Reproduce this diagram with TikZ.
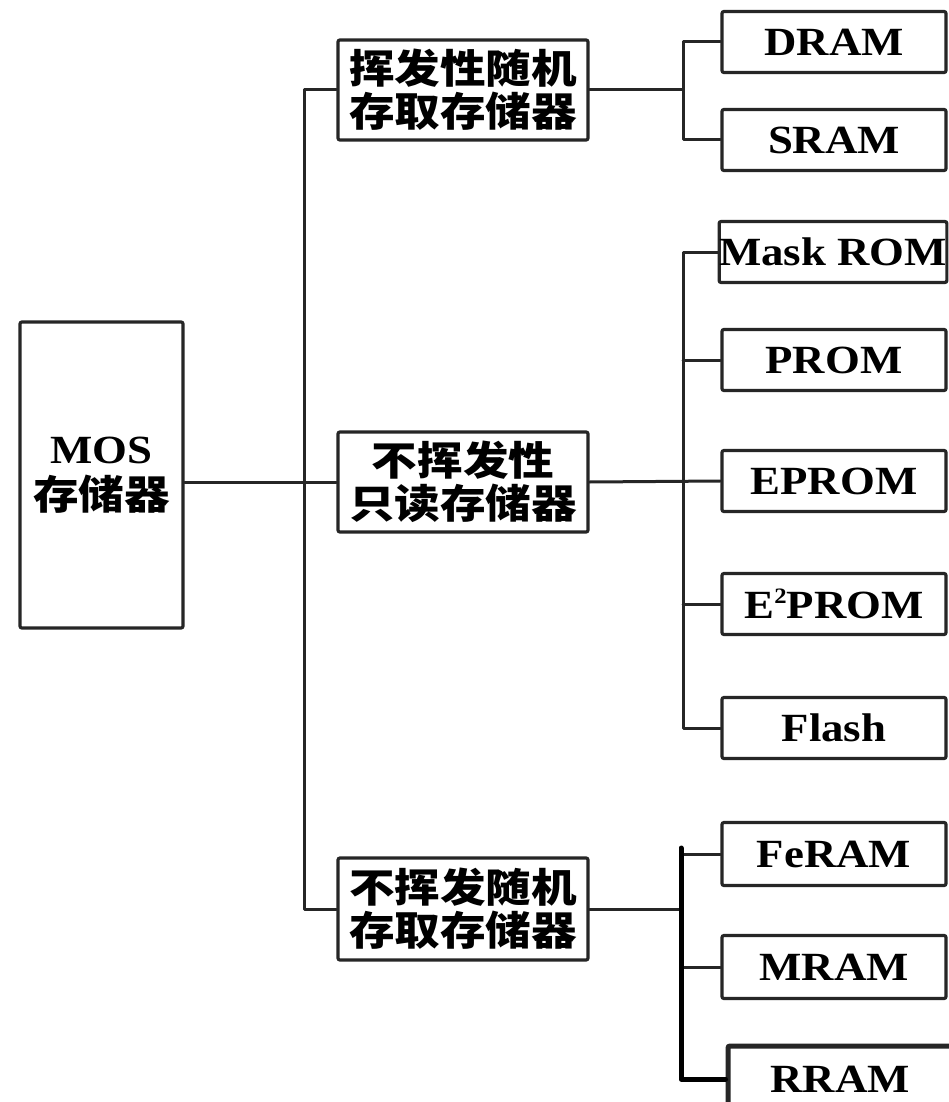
\documentclass[tikz,border=0pt]{standalone}
\usepackage{fontspec}
\setmainfont{Liberation Serif}[FakeStretch=1.12]
\newfontfamily\cjk{Noto Sans CJK SC}[FakeStretch=1.14]
\newcommand{\cjkfont}{\cjk\bfseries\fontsize{40}{43}\selectfont}
\begin{document}
\begin{tikzpicture}[x=1pt,y=-1pt,
  box/.style={draw=black!85, line width=3.2pt, rounded corners=2pt, rectangle, inner sep=0pt, align=center, font=\fontsize{40}{44}\selectfont\bfseries},
  leaf/.style={box, minimum width=224pt, minimum height=61pt},
  mid/.style={box, minimum width=250pt, minimum height=100pt, font=\cjkfont},
  conn/.style={draw=black!85, line width=3pt, line cap=round, line join=round},
  thick conn/.style={draw=black, line width=5pt, line cap=round, line join=round}]
\useasboundingbox[fill=white] (0,0) rectangle (948,1102);

\node[box, minimum width=163pt, minimum height=306pt] (mos) at (101.5,475) {MOS\\[2pt]{\cjkfont 存储器}};

\node[mid] (vram) at (463,90) {挥发性随机\\存取存储器};
\node[mid] (nrom) at (463,482) {不挥发性\\只读存储器};
\node[mid, minimum height=102pt] (nram) at (463,909) {不挥发随机\\存取存储器};

\node[leaf] (dram) at (834,42) {DRAM};
\node[leaf] (sram) at (834,140) {SRAM};
\node[leaf, minimum width=226pt] (mask) at (833,252) {Mask ROM};
\node[leaf] (prom) at (834,360) {PROM};
\node[leaf] (eprom) at (834,481) {EPROM};
\node[leaf] (eeprom) at (834,604) {E\raisebox{0.36em}{\fontsize{22}{22}\selectfont 2}PROM};
\node[leaf] (flash) at (834,728) {Flash};
\node[leaf, minimum height=63pt] (feram) at (834,854) {FeRAM};
\node[leaf, minimum height=63pt] (mram) at (834,967) {MRAM};
\node[leaf, line width=5pt, minimum height=66pt] (rram) at (840,1079) {RRAM};

\coordinate (tr) at (304,0);
\coordinate (b1) at (683,0);
\coordinate (b2) at (681,0);
\coordinate (b2top) at (681,848);

% root to middle level
\draw[conn] (nrom.west) -- (nrom.west -| mos.east);
\draw[conn] (vram.west) -- (vram.west -| tr) -- (nram.west -| tr) -- (nram.west);

% volatile RAM group
\draw[conn] (vram.east) -- (vram.east -| b1);
\draw[conn] (dram.west) -- (dram.west -| b1) -- (sram.west -| b1) -- (sram.west);

% ROM group
\draw[conn] (nrom.east) -- (eprom.west);
\draw[conn] (mask.west) -- (mask.west -| b1) -- (flash.west -| b1) -- (flash.west);
\draw[conn] (prom.west) -- (prom.west -| b1);
\draw[conn] (eeprom.west) -- (eeprom.west -| b1);

% nonvolatile RAM group
\draw[conn] (nram.east) -- (nram.east -| b2);
\draw[conn] (feram.west) -- (feram.west -| b2);
\draw[conn] (mram.west) -- (mram.west -| b2);
\draw[thick conn] (b2top) -- (rram.west -| b2) -- (rram.west);
\end{tikzpicture}
\end{document}
